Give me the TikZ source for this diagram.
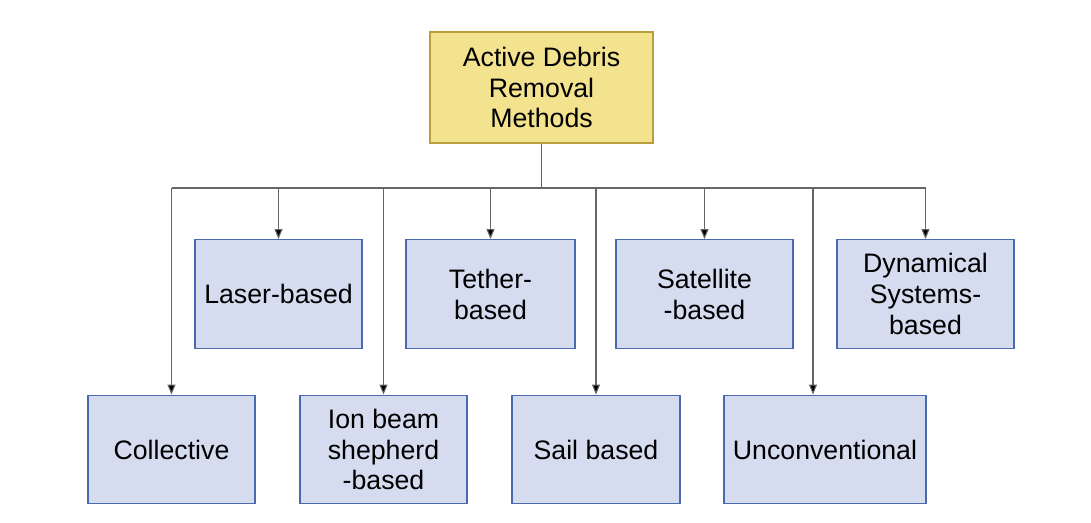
\documentclass[tikz,border=0pt]{standalone}
\usepackage{fontspec}
\setmainfont{Liberation Sans}
\usetikzlibrary{arrows.meta}
\definecolor{rootfill}{HTML}{F3E38E}
\definecolor{rootdraw}{HTML}{B89E3C}
\definecolor{methfill}{HTML}{D6DCF0}
\definecolor{methdraw}{HTML}{4A6AB0}
\begin{document}
\begin{tikzpicture}[x=0.02cm, y=-0.02cm]

        % Define custom styles for boxes and links
        \tikzset{
          rootbox/.style={rectangle, draw=rootdraw, fill=rootfill, line width=0.8pt,
            minimum width=4.46cm, minimum height=2.22cm, align=center, inner sep=0pt,
            font=\fontsize{15.2}{17.6}\selectfont},
          methbox/.style={rectangle, draw=methdraw, fill=methfill, line width=0.8pt,
            minimum height=2.17cm, align=center, inner sep=0pt,
            font=\fontsize{15.2}{17.6}\selectfont},
          link/.style={draw=black!60, line width=0.6pt},
          drop/.style={link, -{Triangle[length=2mm, width=1.6mm, fill=black]}}
        }

        \useasboundingbox (0,0) rectangle (1091,523);

        % Root and the two rows of methods
        \node[rootbox] (root) at (541.5,87.5) {Active Debris\\Removal\\Methods};

        \node[methbox, minimum width=3.34cm] (laser) at (278.5,294) {Laser-based};
        \node[methbox, minimum width=3.38cm] (tether) at (490.5,294) {Tether-\\based};
        \node[methbox, minimum width=3.54cm] (satellite) at (704.5,294) {Satellite\\-based};
        \node[methbox, minimum width=3.54cm] (dynamical) at (925.5,294) {Dynamical\\Systems-\\based};

        \node[methbox, minimum width=3.34cm] (collective) at (171.5,449.5) {Collective};
        \node[methbox, minimum width=3.34cm] (ionbeam) at (383.5,449.5) {Ion beam\\shepherd\\-based};
        \node[methbox, minimum width=3.36cm] (sail) at (596,449.5) {Sail based};
        \node[methbox, minimum width=4.04cm] (unconv) at (825,449.5) {Unconventional};

        % Bus line
        \coordinate (bus) at (541.5,188);
        \coordinate (busL) at (171.5,188);
        \coordinate (busR) at (925.5,188);
        \coordinate (busU) at (813,188);
        \draw[link] (root) -- (bus);
        \draw[link] (busL) -- (busR);

        % Drops to each method
        \draw[drop] (laser |- bus) -- (laser);
        \draw[drop] (tether |- bus) -- (tether);
        \draw[drop] (satellite |- bus) -- (satellite);
        \draw[drop] (dynamical |- bus) -- (dynamical);
        \draw[drop] (collective |- bus) -- (collective);
        \draw[drop] (ionbeam |- bus) -- (ionbeam);
        \draw[drop] (sail |- bus) -- (sail);
        \draw[drop] (busU) -- (busU |- unconv.north);

\end{tikzpicture}
\end{document}
